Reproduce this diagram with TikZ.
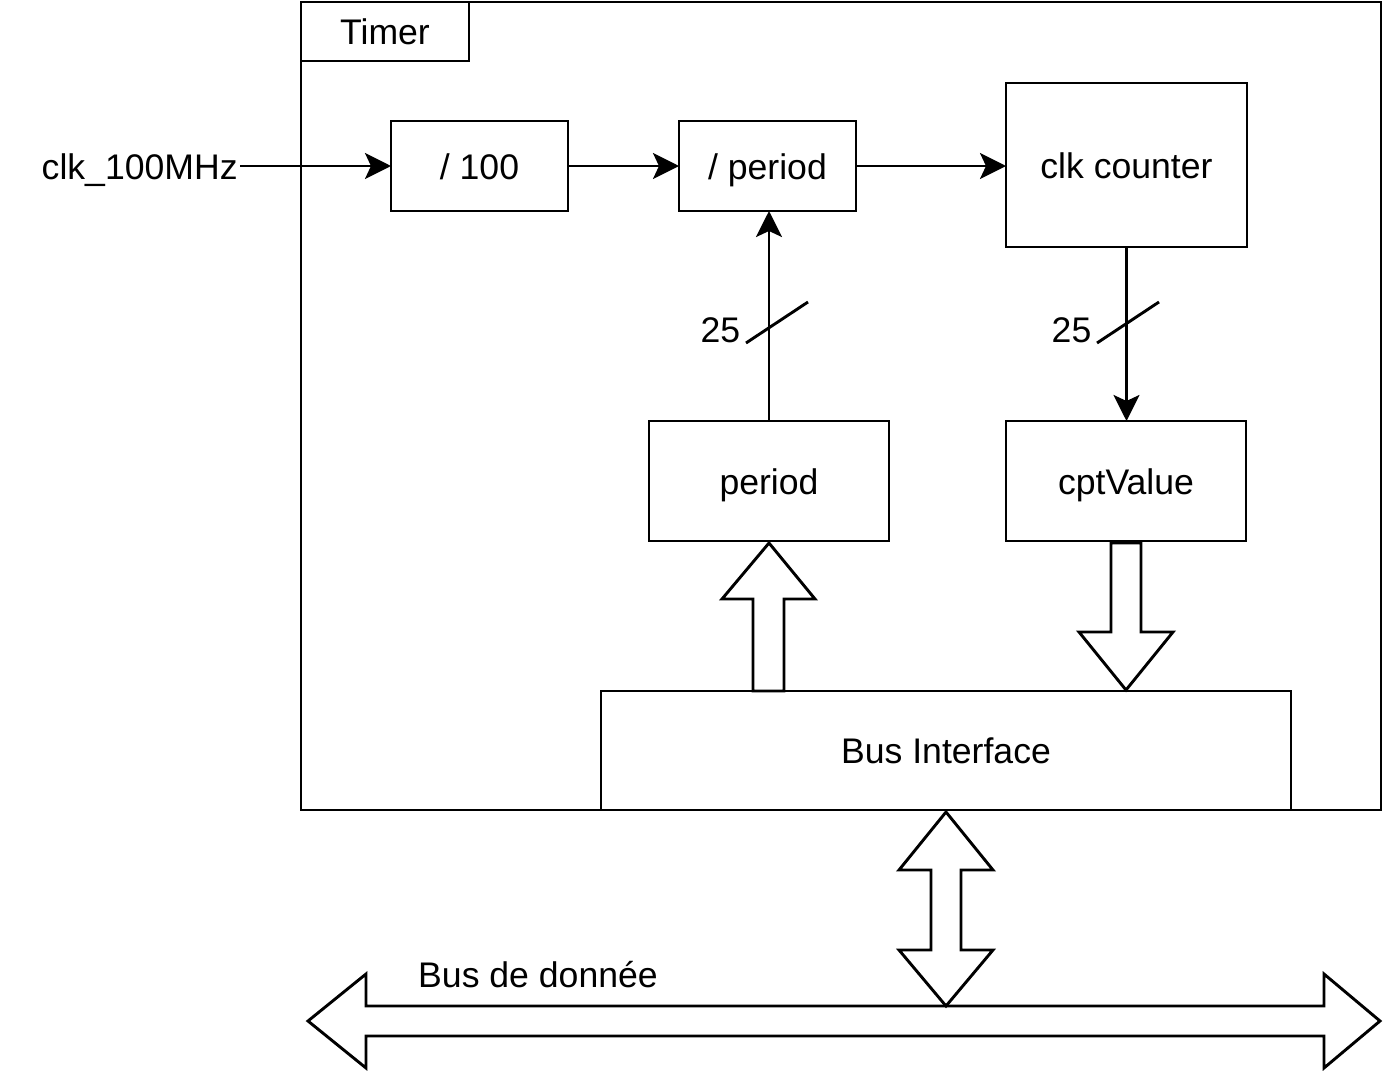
\documentclass[tikz,border=0pt]{standalone}
\usepackage{fontspec}
\setmainfont{Liberation Sans}
\usetikzlibrary{arrows.meta}
\tikzset{
  blk/.style={
    draw,
    line width=1.45pt,
    inner sep=0pt,
    outer sep=0pt},
  sig/.style={
    -{Stealth[length=13pt,width=13pt,inset=3pt]},
    line width=1.45pt},
  fatarrow/.style={
    draw,
    fill=white,
    line width=1.45pt,
    line join=miter}
  }

\begin{document}
\begin{tikzpicture}[x=0.5pt,y=-0.5pt,
    every node/.style={font=\fontsize{17.8pt}{21pt}\selectfont,
      text height=1.45em, text depth=0.12em}]
    \useasboundingbox (0,0) rectangle (1383,1071);
    % blocks
    \node[blk, minimum width=540pt, minimum height=404pt] (timer) at (841,406) {};
    \node[blk, minimum width=84pt, minimum height=29.5pt] (tlabel) at (385,31.5) {Timer};
    \node[blk, minimum width=88.5pt, minimum height=45pt] (div) at (479.5,166) {/ 100};
    \node[blk, minimum width=88.5pt, minimum height=45pt] (divp) at (767.5,166) {/ period};
    \node[blk, minimum width=120.5pt, minimum height=82pt] (cnt) at (1126.5,165) {clk counter};
    \node[blk, minimum width=120pt, minimum height=60pt] (per) at (769,481) {period};
    \node[blk, minimum width=120pt, minimum height=60pt] (cpt) at (1126,481) {cptValue};
    \node[blk, minimum width=345pt, minimum height=59.5pt] (bif) at (946,750.5) {Bus Interface};
    \node[anchor=east, inner sep=1pt] (clk) at (240,166) {clk\_100MHz};
    \node (w1) at (720.5,329) {25};
    \node (w2) at (1071.5,329) {25};
    \node (bd) at (538,974) {Bus de donnée};
    % signals
    \draw [sig] (clk.east) -- (div.west);
    \draw [sig] (div.east) -- (divp.west);
    \draw [sig] (divp.east) -- (divp.east -| cnt.west);
    \draw [sig] (per.north) -- (per.north |- divp.south);
    \draw [sig] (cnt.south) -- (cnt.south |- cpt.north);
    \draw [line width=1.45pt]
      (746,343) -- (808,302)
      (1097,343) -- (1159,302);
    % bus arrows
    \draw [fatarrow] ([yshift=-1pt]per.south) -- ++(46,56) -- ++(-31,0)
      -- ++(0,92) -- ++(-31,0) -- ++(0,-92) -- ++(-31,0) -- cycle;
    \draw [fatarrow] ([yshift=-1pt]cpt.south) -- ++(15,0) -- ++(0,89)
      -- ++(32,0) -- ++(-47,58) -- ++(-47,-58) -- ++(32,0) -- ++(0,-89) -- cycle;
    \draw [fatarrow] (308,1021) -- (366,974) -- (366,1006) -- (1324,1006)
      -- (1324,974) -- (1380,1021) -- (1324,1068) -- (1324,1036)
      -- (366,1036) -- (366,1068) -- cycle;
    \draw [fatarrow] ([yshift=-1pt]bif.south) -- ++(47,58) -- ++(-32,0)
      -- ++(0,80) -- ++(32,0) -- ++(-47,56) -- ++(-47,-56) -- ++(32,0)
      -- ++(0,-80) -- ++(-32,0) -- cycle;
  \end{tikzpicture}
\end{document}
